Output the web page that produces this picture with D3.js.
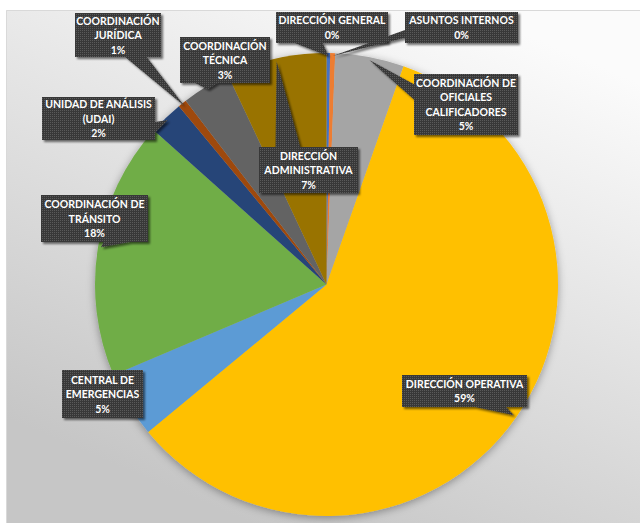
<!DOCTYPE html>
<html>
<head>
<meta charset="utf-8">
<script src="https://cdn.jsdelivr.net/npm/d3@7"></script>
<style>
  html, body { margin: 0; padding: 0; background: #ffffff; }
  svg { display: block; }
  .lbl { font-family: Lato, "Open Sans", sans-serif; font-weight: 700; font-size: 10.5px; fill: #ffffff; }
</style>
</head>
<body>
<svg id="chart" width="640" height="523"></svg>
<script>
// Personal por área (porcentaje del total)
const categories = [
  "DIRECCIÓN GENERAL",
  "ASUNTOS INTERNOS",
  "COORDINACIÓN DE OFICIALES CALIFICADORES",
  "DIRECCIÓN OPERATIVA",
  "CENTRAL DE EMERGENCIAS",
  "COORDINACIÓN DE TRÁNSITO",
  "UNIDAD DE ANÁLISIS (UDAI)",
  "COORDINACIÓN JURÍDICA",
  "COORDINACIÓN TÉCNICA",
  "DIRECCIÓN ADMINISTRATIVA"
];
const values = [0.25, 0.35, 4.8, 58.6, 4.6, 18.0, 2.4, 0.6, 3.4, 7.0];

// How each category name wraps inside its callout
const labelLines = [
  ["DIRECCIÓN GENERAL"],
  ["ASUNTOS INTERNOS"],
  ["COORDINACIÓN DE", "OFICIALES", "CALIFICADORES"],
  ["DIRECCIÓN OPERATIVA"],
  ["CENTRAL DE", "EMERGENCIAS"],
  ["COORDINACIÓN DE", "TRÁNSITO"],
  ["UNIDAD DE ANÁLISIS", "(UDAI)"],
  ["COORDINACIÓN", "JURÍDICA"],
  ["COORDINACIÓN", "TÉCNICA"],
  ["DIRECCIÓN", "ADMINISTRATIVA"]
];

// Office palette, one colour per slice
const palette = ["#4472C4", "#ED7D31", "#A5A5A5", "#FFC000", "#5B9BD5",
                 "#70AD47", "#264478", "#9E480E", "#636363", "#997300"];

// Callout boxes placed by hand: [left, top, right, bottom]
const calloutBoxes = [
  [276, 12, 388, 43],
  [405, 12, 518, 43],
  [414, 74, 518, 135],
  [402, 375, 527, 407],
  [62, 370, 143, 418],
  [41, 195, 148, 242],
  [42, 97, 155, 140],
  [75, 13, 161, 57],
  [180, 37, 270, 83],
  [259, 147, 358, 193]
];

const W = 640, H = 523;
const svg = d3.select("#chart");
const defs = svg.append("defs");

// Chart area background: light at top right, grey towards the bottom
const bg = defs.append("linearGradient")
  .attr("id", "bgGrad").attr("gradientUnits", "userSpaceOnUse")
  .attr("x1", 470).attr("y1", 10).attr("x2", 250).attr("y2", 523);
bg.append("stop").attr("offset", 0).attr("stop-color", "#fbfbfb");
bg.append("stop").attr("offset", 1).attr("stop-color", "#c6c6c6");

// Soft shadow around the pie
const pieShadow = defs.append("filter").attr("id", "pieShadow")
  .attr("x", "-20%").attr("y", "-20%").attr("width", "140%").attr("height", "140%");
pieShadow.append("feDropShadow").attr("dx", 0).attr("dy", 2)
  .attr("stdDeviation", 4).attr("flood-color", "#000").attr("flood-opacity", 0.35);

// Shadow under the callouts
const boxShadow = defs.append("filter").attr("id", "boxShadow")
  .attr("x", "-20%").attr("y", "-20%").attr("width", "140%").attr("height", "140%");
boxShadow.append("feDropShadow").attr("dx", 2).attr("dy", 2)
  .attr("stdDeviation", 1.3).attr("flood-color", "#000").attr("flood-opacity", 0.55);

// Dotted dark fill of the callouts
const pat = defs.append("pattern").attr("id", "dots")
  .attr("patternUnits", "userSpaceOnUse").attr("width", 2).attr("height", 2);
pat.append("rect").attr("width", 2).attr("height", 2).attr("fill", "#383838");
pat.append("rect").attr("width", 1).attr("height", 1).attr("fill", "#5a5a5a");

// Chart area
svg.append("rect").attr("x", 6).attr("y", 10).attr("width", W - 6).attr("height", H - 10)
  .attr("fill", "url(#bgGrad)");
svg.append("path").attr("d", `M6.5,${H} V10.5 H${W}`)
  .attr("fill", "none").attr("stroke", "#d9d9d9").attr("stroke-width", 1);

// Pie
const cx = 326.5, cy = 284.5, r = 231.5;
const total = d3.sum(values);
const pie = d3.pie().sort(null).value(d => d)(values);
const arc = d3.arc().innerRadius(0).outerRadius(r);

const g = svg.append("g").attr("transform", `translate(${cx},${cy})`);
g.append("g").attr("filter", "url(#pieShadow)")
  .selectAll("path").data(pie).join("path")
  .attr("d", arc)
  .attr("fill", (d, i) => palette[i]);

// Callout shape with a wedge pointing to the slice
function callout(b, tip) {
  const [x0, y0, x1, y1] = b;
  const w = x1 - x0, h = y1 - y0;
  const bx = (x0 + x1) / 2, by = (y0 + y1) / 2;
  const dx = tip[0] - bx, dy = tip[1] - by;
  const rect = `M${x0},${y0}L${x1},${y0}L${x1},${y1}L${x0},${y1}Z`;
  if (tip[0] >= x0 && tip[0] <= x1 && tip[1] >= y0 && tip[1] <= y1) return rect;
  const dq = dx * h / w;
  const t = `${tip[0]},${tip[1]}`;
  if (Math.abs(dy) - Math.abs(dq) > 0) {
    const xa = x0 + w * (dx > 0 ? 7 : 2) / 12, xb = x0 + w * (dx > 0 ? 10 : 5) / 12;
    if (dy > 0) return `M${x0},${y0}L${x1},${y0}L${x1},${y1}L${xb},${y1}L${t}L${xa},${y1}L${x0},${y1}Z`;
    return `M${x0},${y0}L${xa},${y0}L${t}L${xb},${y0}L${x1},${y0}L${x1},${y1}L${x0},${y1}Z`;
  }
  const ya = y0 + h * (dy > 0 ? 7 : 2) / 12, yb = y0 + h * (dy > 0 ? 10 : 5) / 12;
  if (dx > 0) return `M${x0},${y0}L${x1},${y0}L${x1},${ya}L${t}L${x1},${yb}L${x1},${y1}L${x0},${y1}Z`;
  return `M${x0},${y0}L${x1},${y0}L${x1},${y1}L${x0},${y1}L${x0},${yb}L${t}L${x0},${ya}Z`;
}

const labels = svg.append("g");
pie.forEach((d, i) => {
  const mid = (d.startAngle + d.endAngle) / 2;
  const tr = r - 3;
  const tip = [cx + tr * Math.sin(mid), cy - tr * Math.cos(mid)];
  const b = calloutBoxes[i];
  labels.append("path")
    .attr("d", callout(b, tip))
    .attr("fill", "url(#dots)")
    .attr("filter", "url(#boxShadow)");

  const lines = labelLines[i].concat([Math.round(values[i] / total * 100) + "%"]);
  const bx = (b[0] + b[2]) / 2, by = (b[1] + b[3]) / 2;
  const lh = 14.5;
  lines.forEach((txt, k) => {
    labels.append("text").attr("class", "lbl")
      .attr("x", bx)
      .attr("y", by + (k - (lines.length - 1) / 2) * lh)
      .attr("text-anchor", "middle")
      .attr("dominant-baseline", "central")
      .text(txt);
  });
});
</script>
</body>
</html>
